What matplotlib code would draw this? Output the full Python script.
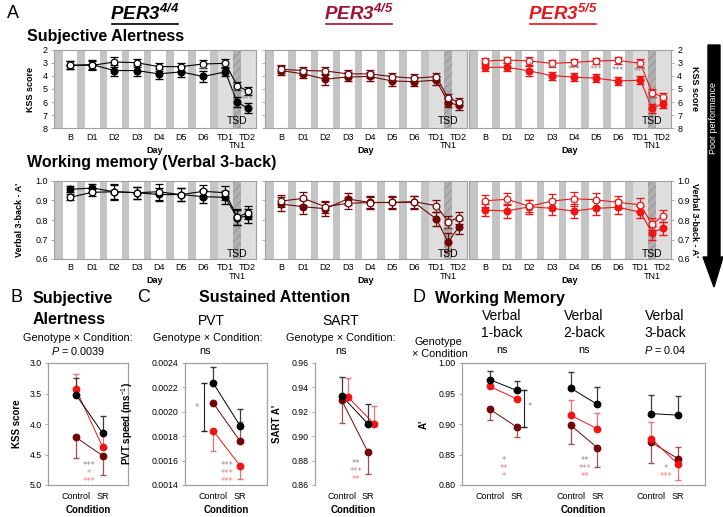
import matplotlib.pyplot as plt
import numpy as np
from matplotlib.patches import Polygon

plt.rcParams['font.family'] = ['Liberation Sans', 'DejaVu Sans']
plt.rcParams['mathtext.fontset'] = 'custom'
plt.rcParams['mathtext.rm'] = 'Liberation Sans'
plt.rcParams['mathtext.it'] = 'Liberation Sans:italic'
plt.rcParams['mathtext.bf'] = 'Liberation Sans:bold:italic'
plt.rcParams['hatch.linewidth'] = 0.6

W, H = 723, 517

# ---------------- data: panel A (daily profiles) ----------------
days = ['B', 'D1', 'D2', 'D3', 'D4', 'D5', 'D6', 'TD1', 'TN1', 'TD2']
genotypes = ['4/4', '4/5', '5/5']

# KSS (open = control, filled = sleep restriction)
kss_44_ctrl = [3.20, 3.20, 2.95, 3.00, 3.30, 3.30, 3.10, 3.05, 4.75, 5.15]
kss_44_sr = [3.20, 3.15, 3.60, 3.60, 3.85, 3.70, 4.05, 3.70, 6.00, 6.45]
kss_45_ctrl = [3.50, 3.60, 3.63, 3.85, 3.85, 4.06, 4.18, 4.06, 5.70, 5.98]
kss_45_sr = [3.60, 3.85, 4.26, 4.08, 4.05, 4.39, 4.44, 4.33, 6.03, 6.23]
kss_55_ctrl = [2.87, 2.80, 2.87, 3.05, 2.98, 2.87, 2.83, 3.05, 5.27, 5.62]
kss_55_sr = [3.35, 3.35, 3.63, 3.98, 4.10, 4.18, 4.39, 4.33, 6.46, 6.13]
kss_44_ctrl_se = [0.30, 0.35, 0.35, 0.30, 0.30, 0.30, 0.30, 0.30, 0.30, 0.30]
kss_44_sr_se = [0.30, 0.35, 0.40, 0.40, 0.40, 0.40, 0.40, 0.30, 0.40, 0.35]
kss_45_ctrl_se = [0.30, 0.30, 0.30, 0.30, 0.30, 0.30, 0.30, 0.30, 0.30, 0.30]
kss_45_sr_se = [0.35, 0.35, 0.40, 0.35, 0.35, 0.35, 0.35, 0.35, 0.35, 0.35]
kss_55_ctrl_se = [0.25, 0.25, 0.30, 0.25, 0.25, 0.25, 0.25, 0.30, 0.30, 0.30]
kss_55_sr_se = [0.30, 0.30, 0.35, 0.30, 0.30, 0.30, 0.30, 0.30, 0.35, 0.35]

# Verbal 3-back A'
vb_44_ctrl = [0.916, 0.942, 0.945, 0.940, 0.945, 0.930, 0.947, 0.940, 0.814, 0.838]
vb_44_sr = [0.957, 0.964, 0.945, 0.940, 0.931, 0.930, 0.920, 0.916, 0.812, 0.820]
vb_45_ctrl = [0.897, 0.911, 0.868, 0.886, 0.889, 0.890, 0.894, 0.873, 0.791, 0.812]
vb_45_sr = [0.882, 0.868, 0.858, 0.908, 0.890, 0.890, 0.890, 0.805, 0.686, 0.763]
vb_55_ctrl = [0.899, 0.906, 0.870, 0.897, 0.909, 0.904, 0.890, 0.878, 0.778, 0.820]
vb_55_sr = [0.851, 0.846, 0.868, 0.860, 0.846, 0.860, 0.865, 0.840, 0.735, 0.757]
vb_44_ctrl_se = [0.015, 0.020, 0.040, 0.030, 0.040, 0.035, 0.035, 0.035, 0.040, 0.035]
vb_44_sr_se = [0.015, 0.020, 0.035, 0.030, 0.035, 0.035, 0.035, 0.035, 0.040, 0.035]
vb_45_ctrl_se = [0.030, 0.035, 0.030, 0.030, 0.030, 0.030, 0.030, 0.030, 0.030, 0.030]
vb_45_sr_se = [0.035, 0.035, 0.035, 0.030, 0.035, 0.035, 0.035, 0.035, 0.045, 0.035]
vb_55_ctrl_se = [0.030, 0.030, 0.030, 0.035, 0.035, 0.035, 0.035, 0.035, 0.030, 0.030]
vb_55_sr_se = [0.030, 0.035, 0.035, 0.035, 0.035, 0.035, 0.035, 0.030, 0.035, 0.035]

kss_stars = {'4/4': [(6, '**'), (8, '***'), (9, '***')],
             '4/5': [],
             '5/5': [(2, '*'), (3, '**'), (4, '***'), (5, '***'), (6, '***'), (7, '***'), (8, '***')]}
vb_stars = {'4/4': [], '4/5': [(7, '*'), (8, '***')], '5/5': [(1, '*'), (4, '*'), (9, '*')]}

# ---------------- data: panels B-D (control vs SR, per genotype 4/4, 4/5, 5/5) ----------------
cond_labels = ['Control', 'SR']
kss_ctrl = [3.52, 4.22, 3.43]
kss_sr = [4.15, 4.52, 4.38]
kss_err_lo = [[0.27, 0.28], [0, 0], [0.25, 0.25]]
kss_err_hi = [[0, 0], [0.33, 0.32], [0, 0]]

pvt_ctrl = [0.002234, 0.002070, 0.001843]
pvt_sr = [0.001886, 0.001760, 0.001558]
pvt_err_lo = [[0, 0], [0, 0], [0.000163, 0.000108]]
pvt_err_hi = [[0.000136, 0.000134], [0, 0.000154], [0, 0]]

sart_ctrl = [0.9332, 0.9297, 0.9324]
sart_sr = [0.9100, 0.8868, 0.9100]
sart_err_lo = [[0, 0], [0.0187, 0.0178], [0, 0]]
sart_err_hi = [[0.0156, 0.0160], [0, 0], [0.0151, 0.0150]]

wm_tasks = ['Verbal\n1-back', 'Verbal\n2-back', 'Verbal\n3-back']
wm_stats = ['ns', 'ns', '$P$ = 0.04']
wm_44_ctrl = [0.9726, 0.959, 0.917]
wm_44_sr = [0.955, 0.932, 0.9145]
wm_45_ctrl = [0.924, 0.898, 0.870]
wm_45_sr = [0.895, 0.861, 0.843]
wm_55_ctrl = [0.9616, 0.9145, 0.876]
wm_55_sr = [0.941, 0.892, 0.834]
wm_44_lo = [[0, 0], [0, 0], [0, 0]]
wm_44_hi = [[0.015, 0.015], [0.027, 0.028], [0.031, 0.0315]]
wm_45_lo = [[0.017, 0.017], [0.030, 0.031], [0.034, 0]]
wm_45_hi = [[0, 0], [0, 0], [0, 0.020]]
wm_55_lo = [[0, 0], [0, 0], [0, 0.026]]
wm_55_hi = [[0, 0], [0.0255, 0.026], [0.028, 0]]

# ---------------- style ----------------
C44, C45, C55 = '#000000', '#700606', '#f01414'
E44, E45, E55 = '#3a3a3a', '#a05050', '#f07070'
S_GREY, S_DRED, S_RED = '#8c8c8c', '#c88888', '#ff7777'
SPINE = '#a0a0a0'
BAND, TSDC, HATCH = '#c4c4c4', '#dedede', '#b0b0b0'
STAR_FONT = dict(family='DejaVu Sans', fontsize=6)
day_x = [0, 1, 2, 3, 4, 5, 6, 7, 7.53, 8]

fig = plt.figure(figsize=(W / 100, H / 100), dpi=100)
bg = fig.add_axes([0, 0, 1, 1])
bg.set_xlim(0, W)
bg.set_ylim(H, 0)
bg.axis('off')


def pax(x0, y0, x1, y1):
    return fig.add_axes([x0 / W, 1 - y1 / H, (x1 - x0) / W, (y1 - y0) / H])


def txt(x, y, s, **kw):
    kw.setdefault('va', 'center')
    bg.text(x, y, s, **kw)


def day_panel(ax, ctrl, ctrl_se, sr, sr_se, color, stars, kss):
    for k in range(8):
        ax.axvspan(k - 0.67, k - 0.33, color=BAND, lw=0, zorder=0)
    ax.axvspan(6.67, 9, color=TSDC, lw=0, zorder=0)
    ax.axvspan(7.36, 7.70, facecolor=HATCH, hatch='////', edgecolor='#909090', lw=0, zorder=0.5)
    ax.errorbar(day_x, sr, yerr=sr_se, color=color, lw=0.8, elinewidth=0.8, capsize=2.8,
                marker='o', ms=4.8, mfc=color, mec=color, zorder=3)
    ax.errorbar(day_x, ctrl, yerr=ctrl_se, color=color, lw=0.8, elinewidth=0.8, capsize=2.8,
                marker='o', ms=4.8, mfc='white', mec=color, mew=0.9, zorder=3)
    ax.set_xlim(-0.72, 8.38)
    if kss:
        ax.set_ylim(8, 2)
        ax.set_yticks([2, 3, 4, 5, 6, 7, 8])
        ax.text(7.55, 7.45, 'TSD', ha='center', va='center', fontsize=7.5, zorder=4)
    else:
        ax.set_ylim(0.6, 1.0)
        ax.set_yticks([0.6, 0.7, 0.8, 0.9, 1.0])
        ax.set_yticklabels(['0.6', '0.7', '0.8', '0.9', '1.0'])
        ax.text(7.55, 0.625, 'TSD', ha='center', va='center', fontsize=7.5, zorder=4)
    for i, s in stars:
        yv = (ctrl[i] + sr[i]) / 2
        ax.text(day_x[i], yv, s, ha='center', va='center', color=S_GREY, zorder=4, **STAR_FONT)
    ax.set_xticks(day_x[:8] + [day_x[9]])
    ax.set_xticklabels(days[:8] + [days[9]])
    ax.text(day_x[8], -0.22, days[8], transform=ax.get_xaxis_transform(),
            ha='center', va='center', fontsize=6.5)
    ax.text(0.5, -0.275, 'Day', transform=ax.transAxes, ha='center', va='center',
            fontsize=6.5, fontweight='bold')
    ax.tick_params(axis='x', length=0, pad=3, labelsize=6.5)
    ax.tick_params(axis='y', length=2.5, width=0.6, color=SPINE, labelsize=6.5, pad=2)
    for sp in ax.spines.values():
        sp.set_color(SPINE)
        sp.set_linewidth(0.8)


cols = [(54, 256), (265, 467), (469, 671)]
kss_sets = [(kss_44_ctrl, kss_44_ctrl_se, kss_44_sr, kss_44_sr_se, C44),
            (kss_45_ctrl, kss_45_ctrl_se, kss_45_sr, kss_45_sr_se, C45),
            (kss_55_ctrl, kss_55_ctrl_se, kss_55_sr, kss_55_sr_se, C55)]
vb_sets = [(vb_44_ctrl, vb_44_ctrl_se, vb_44_sr, vb_44_sr_se, C44),
           (vb_45_ctrl, vb_45_ctrl_se, vb_45_sr, vb_45_sr_se, C45),
           (vb_55_ctrl, vb_55_ctrl_se, vb_55_sr, vb_55_sr_se, C55)]

for j, (x0, x1) in enumerate(cols):
    for row, (y0, y1, sets, starset, kss) in enumerate([(49.5, 128.5, kss_sets, kss_stars, True),
                                                         (181, 259, vb_sets, vb_stars, False)]):
        ax = pax(x0, y0, x1, y1)
        c, cse, s, sse, col = sets[j]
        day_panel(ax, c, cse, s, sse, col, starset[genotypes[j]], kss)
        lab = 'KSS score' if kss else "Verbal 3-back - A'"
        if j == 0:
            ax.set_ylabel(lab, fontsize=6.5, fontweight='bold')
            ax.yaxis.set_label_coords(-0.094 if kss else -0.148, 0.5)
        elif j == 1:
            ax.tick_params(axis='y', labelleft=False)
        else:
            ax.yaxis.tick_right()
            ax.yaxis.set_label_position('right')
            ax.set_ylabel(lab, fontsize=6.5, fontweight='bold', rotation=270, va='center')
            ax.yaxis.set_label_coords(1.115, 0.5)

# titles of panel A
title_cols = ['#000000', '#a01030', '#e5161c']
for xc, g, col in zip([145, 359, 563], genotypes, title_cols):
    txt(xc, 14, r'$\mathbf{PER3^{%s}}$' % g, ha='center', fontsize=13.5, color=col)
    bg.plot([xc - 33, xc + 33], [23.5, 23.5], color=col, lw=1.2)
txt(7, 14, 'A', fontsize=13)
txt(27, 36, 'Subjective Alertness', fontsize=11.5, fontweight='bold')
txt(27, 163, 'Working memory (Verbal 3-back)', fontsize=11.5, fontweight='bold')

# poor performance arrow
arrow = Polygon([[708, 45], [720, 45], [720, 257], [723, 257], [714, 287], [703, 257], [708, 257]],
                closed=True, color='black')
bg.add_patch(arrow)
txt(714, 118, 'Poor performance', ha='center', rotation=90, fontsize=6.5, color='white')


# ---------------- panels B-D ----------------
def cond_axes(ax, ylim, yticks, fmt, box=True):
    ax.set_ylim(*ylim)
    ax.set_yticks(yticks)
    ax.set_yticklabels([fmt % v for v in yticks])
    ax.tick_params(axis='y', length=2.5, width=0.6, color=SPINE, labelsize=6.3, pad=2)
    ax.tick_params(axis='x', length=0, labelsize=6.5, pad=5)
    for name, sp in ax.spines.items():
        sp.set_color(SPINE)
        sp.set_linewidth(0.9)
        if not box and name != 'left':
            sp.set_visible(False)
    ax.set_xlabel('Condition', fontsize=7, fontweight='bold', labelpad=3)


def draw_pair(ax, xs, yc, ys, lo, hi, color, ecolor):
    ax.plot(xs, [yc, ys], color=color, lw=0.7, zorder=2)
    ax.errorbar(xs, [yc, ys], yerr=[lo, hi], fmt='none', ecolor=ecolor, elinewidth=0.9,
                capsize=2.5, zorder=1)
    ax.plot(xs, [yc, ys], 'o', color=color, ms=4.6, zorder=3)


def star_stack(ax, x, ys, labels):
    for y, s, c in zip(ys, labels, [S_GREY, S_DRED, S_RED]):
        if s:
            ax.text(x, y, s, ha='center', va='center', color=c, zorder=4, **STAR_FONT)


geno_cols = [(C44, E44), (C45, E45), (C55, E55)]
draw_order = [1, 2, 0]

# B: KSS
axB = pax(48, 363, 128, 485)
for g in draw_order:
    draw_pair(axB, [0, 1], kss_ctrl[g], kss_sr[g], kss_err_lo[g], kss_err_hi[g], *geno_cols[g])
axB.set_xlim(-1.05, 1.95)
axB.set_xticks([0, 1])
axB.set_xticklabels(cond_labels)
cond_axes(axB, (5.0, 3.0), [3.0, 3.5, 4.0, 4.5, 5.0], '%.1f')
axB.set_ylabel('KSS score', fontsize=7, fontweight='bold')
axB.yaxis.set_label_coords(-0.33, 0.5)
star_stack(axB, 0.49, [4.68, 4.81, 4.94], ['***', '*', '***'])

# C: PVT
axP = pax(185, 363, 267, 485)
for g in draw_order:
    draw_pair(axP, [0, 1], pvt_ctrl[g], pvt_sr[g], pvt_err_lo[g], pvt_err_hi[g], *geno_cols[g])
axP.errorbar([-0.35], [(pvt_ctrl[0] + pvt_ctrl[2]) / 2],
             yerr=[(pvt_ctrl[0] - pvt_ctrl[2]) / 2], fmt='none', ecolor='#222222',
             elinewidth=0.8, capsize=2.5)
axP.text(-0.6, (pvt_ctrl[0] + pvt_ctrl[2]) / 2, '*', ha='center', va='center',
         color=S_GREY, **STAR_FONT)
axP.set_xlim(-1.06, 2.01)
axP.set_xticks([0, 1])
axP.set_xticklabels(cond_labels)
cond_axes(axP, (0.0014, 0.0024), [0.0014, 0.0016, 0.0018, 0.0020, 0.0022, 0.0024], '%.4f')
axP.set_ylabel('PVT speed (ms$^{-1}$)', fontsize=7, fontweight='bold')
axP.yaxis.set_label_coords(-0.61, 0.5)
star_stack(axP, 0.51, [0.00156, 0.001494, 0.001428], ['***', '***', '***'])

# C: SART
axS = pax(315, 363, 392, 485)
sart_shift = [0, 0, 0.23]
for g in draw_order:
    xs = [0 + sart_shift[g], 1 + sart_shift[g]]
    draw_pair(axS, xs, sart_ctrl[g], sart_sr[g], sart_err_lo[g], sart_err_hi[g], *geno_cols[g])
axS.set_xlim(-1.0, 1.9)
axS.set_xticks([0, 1])
axS.set_xticklabels(cond_labels)
cond_axes(axS, (0.86, 0.96), [0.86, 0.88, 0.90, 0.92, 0.94, 0.96], '%.2f', box=False)
axS.set_ylabel("SART A'", fontsize=7, fontweight='bold')
axS.yaxis.set_label_coords(-0.43, 0.5)
star_stack(axS, 0.56, [0.8775, 0.8709, 0.8644], ['**', '***', '**'])

# D: working memory
axD = pax(462, 363, 705, 485)
wm_ctrl = [wm_44_ctrl, wm_45_ctrl, wm_55_ctrl]
wm_sr = [wm_44_sr, wm_45_sr, wm_55_sr]
wm_lo = [wm_44_lo, wm_45_lo, wm_55_lo]
wm_hi = [wm_44_hi, wm_45_hi, wm_55_hi]
for t in range(3):
    for g in draw_order:
        draw_pair(axD, [3 * t, 3 * t + 1], wm_ctrl[g][t], wm_sr[g][t], wm_lo[g][t], wm_hi[g][t],
                  *geno_cols[g])
axD.errorbar([1.26], [(wm_44_sr[0] + wm_45_sr[0]) / 2], yerr=[(wm_44_sr[0] - wm_45_sr[0]) / 2],
             fmt='none', ecolor='#222222', elinewidth=0.8, capsize=2.5)
axD.text(1.47, (wm_44_sr[0] + wm_45_sr[0]) / 2 + 0.004, '*', ha='center', va='center',
         color=S_GREY, **STAR_FONT)
axD.set_xlim(-1.04, 8.0)
axD.set_xticks([0, 1, 3, 4, 6, 7])
axD.set_xticklabels(cond_labels * 3)
cond_axes(axD, (0.80, 1.00), [0.80, 0.85, 0.90, 0.95, 1.00], '%.2f')
axD.set_ylabel("A'", fontsize=7, fontweight='bold')
axD.yaxis.set_label_coords(-0.136, 0.5)
star_ys = [0.8400, 0.8268, 0.8137]
star_stack(axD, 0.52, star_ys, ['*', '**', '*'])
star_stack(axD, 3.53, star_ys, ['**', '***', '**'])
star_stack(axD, 6.55, star_ys, ['', '*', '***'])

# headers B-D
txt(11, 298, 'B', fontsize=13)
txt(33, 298, 'Subjective', fontsize=11.5, fontweight='bold')
txt(33, 319, 'Alertness', fontsize=11.5, fontweight='bold')
txt(78, 338, 'Genotype \u00d7 Condition:', ha='center', fontsize=7.8)
txt(78, 351, '$P$ = 0.0039', ha='center', fontsize=7.8)

txt(137, 298, 'C', fontsize=13)
txt(199, 298, 'Sustained Attention', fontsize=11.5, fontweight='bold')
txt(211, 321, 'PVT', ha='center', fontsize=10)
txt(341, 321, 'SART', ha='center', fontsize=10)
txt(208, 338, 'Genotype \u00d7 Condition:', ha='center', fontsize=7.8)
txt(341, 338, 'Genotype \u00d7 Condition:', ha='center', fontsize=7.8)
txt(205, 351, 'ns', ha='center', fontsize=7.8)
txt(341, 351, 'ns', ha='center', fontsize=7.8)

txt(412, 298, 'D', fontsize=13)
txt(435, 298, 'Working Memory', fontsize=11.5, fontweight='bold')
txt(438, 342, 'Genotype', ha='center', fontsize=7.8)
txt(440, 354, '\u00d7 Condition', ha='center', fontsize=7.8)
for xc, task, stat in zip([502, 584, 665], wm_tasks, wm_stats):
    top, bottom = task.split('\n')
    txt(xc, 316, top, ha='center', fontsize=10)
    txt(xc, 333, bottom, ha='center', fontsize=10)
    txt(xc, 350, stat, ha='center', fontsize=7.8)

fig.savefig('out.png', dpi=100)
